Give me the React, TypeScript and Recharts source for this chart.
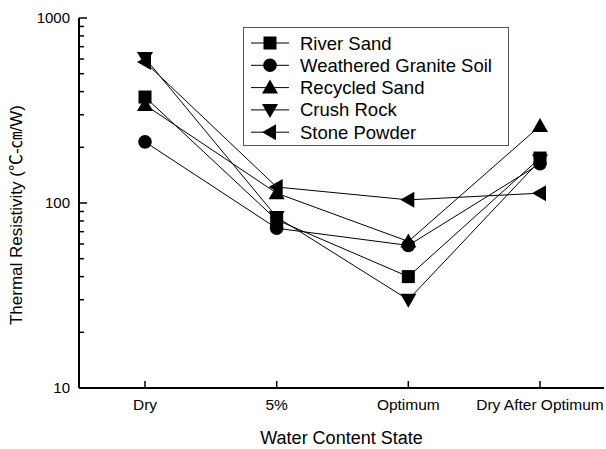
import React from "react";
import { LineChart, Line, XAxis, YAxis, Legend } from "recharts";

const states = ["Dry", "5%", "Optimum", "Dry After Optimum"];

const riverSand = [374, 81, 40, 175];
const graniteSoil = [214, 73, 59, 163];
const recycledSand = [339, 113, 62, 261];
const crushRock = [608, 84, 30, 170];
const stonePowder = [578, 122, 104, 113];

const yTicks = [10, 20, 30, 40, 50, 60, 70, 80, 90, 100, 200, 300, 400, 500, 600, 700, 800, 900, 1000];
const yLabels = [10, 100, 1000];

type MarkerKind = "square" | "circle" | "up" | "down" | "left";

const series: { key: string; name: string; marker: MarkerKind; values: number[] }[] = [
  { key: "river", name: "River Sand", marker: "square", values: riverSand },
  { key: "granite", name: "Weathered Granite Soil", marker: "circle", values: graniteSoil },
  { key: "recycled", name: "Recycled Sand", marker: "up", values: recycledSand },
  { key: "crush", name: "Crush Rock", marker: "down", values: crushRock },
  { key: "stone", name: "Stone Powder", marker: "left", values: stonePowder },
];

const data = states.map((state, i) => {
  const row: Record<string, string | number> = { state };
  series.forEach((s) => (row[s.key] = s.values[i]));
  return row;
});

const FONT = "'Liberation Sans', Arial, 'Noto Sans CJK KR', sans-serif";

const Marker = ({ cx, cy, kind }: { cx: number; cy: number; kind: MarkerKind }) => {
  if (cx == null || cy == null) return null;
  switch (kind) {
    case "square":
      return <rect x={cx - 6.5} y={cy - 6.5} width={13} height={13} fill="#000" />;
    case "circle":
      return <circle cx={cx} cy={cy} r={6.8} fill="#000" />;
    case "up":
      return <polygon points={`${cx},${cy - 8} ${cx + 8},${cy + 6} ${cx - 8},${cy + 6}`} fill="#000" />;
    case "down":
      return <polygon points={`${cx},${cy + 8} ${cx + 8},${cy - 6} ${cx - 8},${cy - 6}`} fill="#000" />;
    default:
      return <polygon points={`${cx - 8},${cy} ${cx + 6},${cy - 8} ${cx + 6},${cy + 8}`} fill="#000" />;
  }
};

// left axis: long ticks with labels on decades, short ticks in between
const YTick = (props: any) => {
  const { x, y, payload } = props;
  const major = yLabels.includes(Number(payload.value));
  return (
    <g>
      <line x1={x} y1={y} x2={x + (major ? 8 : 5)} y2={y} stroke="#000" strokeWidth={1.5} />
      {major && (
        <text x={x - 9} y={y} dy={5} textAnchor="end" fontSize={15} fontFamily={FONT} fill="#000">
          {payload.value}
        </text>
      )}
    </g>
  );
};

const XTick = (props: any) => {
  const { x, y, payload } = props;
  return (
    <g>
      <line x1={x} y1={y} x2={x} y2={y - 7} stroke="#000" strokeWidth={1.5} />
      <text x={x} y={y} dy={22} textAnchor="middle" fontSize={15.5} fontFamily={FONT} fill="#000">
        {payload.value}
      </text>
    </g>
  );
};

const YTitle = (props: any) => {
  const { x, y, width, height } = props.viewBox;
  const cx = x + width - 57;
  const cy = y + height / 2 + 12;
  return (
    <text x={cx} y={cy} transform={`rotate(-90 ${cx} ${cy})`} textAnchor="middle" fontSize={17} fontFamily={FONT} fill="#000">
      Thermal Resistivity (℃-㎝/W)
    </text>
  );
};

const XTitle = (props: any) => {
  const { x, y, width } = props.viewBox;
  return (
    <text x={x + width / 2} y={y + 56} textAnchor="middle" fontSize={18} fontFamily={FONT} fill="#000">
      Water Content State
    </text>
  );
};

const LegendBox = () => (
  <svg width={266} height={119} style={{ display: "block" }}>
    <rect x={0.5} y={0.5} width={265} height={118} fill="#fff" stroke="#555" strokeWidth={1} />
    {series.map((s, i) => {
      const cy = 16 + i * 22.3;
      return (
        <g key={s.key}>
          <line x1={8} y1={cy} x2={46} y2={cy} stroke="#000" strokeWidth={1} />
          <Marker cx={27} cy={cy} kind={s.marker} />
          <text x={57} y={cy} dy={6.5} fontSize={18.5} fontFamily={FONT} fill="#000">
            {s.name}
          </text>
        </g>
      );
    })}
  </svg>
);

export default function App() {
  return (
    <div style={{ position: "absolute", left: 0, top: 0, background: "#fff" }}>
      <LineChart width={606} height={449} data={data} margin={{ top: 18, right: 2, bottom: 0, left: 0 }}>
        <XAxis
          dataKey="state"
          height={61}
          padding={{ left: 66, right: 64 }}
          axisLine={{ stroke: "#000", strokeWidth: 2 }}
          tickLine={false}
          tickSize={0}
          tickMargin={0}
          tick={<XTick />}
          interval={0}
          label={<XTitle />}
        />
        <XAxis xAxisId="top" dataKey="state" orientation="top" height={0} tick={false} tickLine={false} axisLine={{ stroke: "#000", strokeWidth: 2 }} />
        <YAxis
          scale="log"
          domain={[10, 1000]}
          ticks={yTicks}
          interval={0}
          allowDataOverflow
          width={79}
          axisLine={{ stroke: "#000", strokeWidth: 2 }}
          tickLine={false}
          tickSize={0}
          tickMargin={0}
          tick={<YTick />}
          label={<YTitle />}
        />
        <YAxis yAxisId="right" orientation="right" width={0} domain={[0, 1]} tick={false} tickLine={false} axisLine={{ stroke: "#666", strokeWidth: 1 }} />
        <Legend
          layout="vertical"
          align="center"
          verticalAlign="middle"
          content={() => <LegendBox />}
          wrapperStyle={{ left: 243, top: 27, width: 266, height: 119 }}
        />
        {series.map((s) => (
          <Line
            key={s.key}
            dataKey={s.key}
            name={s.name}
            stroke="#000"
            strokeWidth={1}
            isAnimationActive={false}
            dot={(p: any) => <Marker key={`${s.key}-${p.index}`} cx={p.cx} cy={p.cy} kind={s.marker} />}
            activeDot={false}
          />
        ))}
      </LineChart>
    </div>
  );
}
